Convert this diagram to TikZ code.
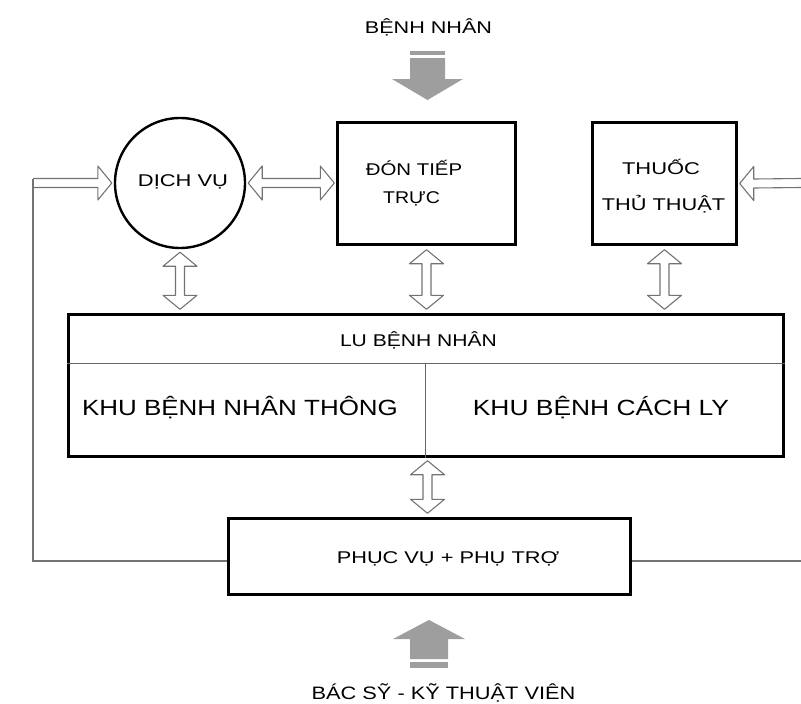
\documentclass[tikz,border=0pt]{standalone}
\usepackage{fontspec}
\setmainfont{Liberation Sans}
\usepackage{graphicx}
\usetikzlibrary{calc}
\newcommand\sx[2]{\scalebox{#1}[1]{#2}}
\tikzset{
  boxst/.style={draw=black, line width=2.4pt, inner sep=0pt, fill=white},
  txt/.style={anchor=base, inner sep=0pt, font=\fontsize{17}{20}\selectfont},
  bigtxt/.style={anchor=base, inner sep=0pt, font=\fontsize{22}{26}\selectfont},
  blk/.style={draw=black!55, line width=1.1pt, line join=round},
  link/.style={draw=black!55, line width=2.5pt},
  divider/.style={draw=black!60, line width=0.9pt},
  gblock/.style={fill=black!38, draw=none},
}
\newcommand\vdbl[2]{\draw[blk] (#1) -- ++(-17,14) -- ++(12.5,0) -- ($(#2)+(-4.5,-14)$) -- ++(-12.5,0) -- (#2) -- ++(17,-14) -- ++(-12.5,0) -- ($(#1)+(4.5,14)$) -- ++(12.5,0) -- cycle;}
\newcommand\hdbl[2]{\draw[blk] (#1) -- ++(14,-17) -- ++(0,12.5) -- ($(#2)+(-14,-4.5)$) -- ++(0,-12.5) -- (#2) -- ++(-14,17) -- ++(0,-12.5) -- ($(#1)+(14,4.5)$) -- ++(0,12.5) -- cycle;}
\begin{document}
\begin{tikzpicture}[x=1pt,y=-1pt]
\useasboundingbox (0,0) rectangle (801,704);

% nodes
\node[boxst, circle, minimum size=130] (dv) at (180,183) {};
\node[boxst, rectangle, minimum width=178, minimum height=122] (dt) at (426.5,183.5) {};
\node[boxst, rectangle, minimum width=144, minimum height=122] (th) at (664.5,183.5) {};
\node[boxst, rectangle, minimum width=715, minimum height=142] (lu) at (426,385.5) {};
\node[boxst, rectangle, minimum width=402, minimum height=76] (pv) at (429.5,556.5) {};

% dividers of the big box
\coordinate (d1) at (68,363);
\coordinate (d2) at (425,363);
\draw[divider] (lu.west |- d1) -- (lu.east |- d1);
\draw[divider] (d2) -- (lu.south -| d2);

% texts
\node[txt] (t1) at (428.5,33) {\sx{1.27}{BỆNH NHÂN}};
\node[txt] (t2) at (183,186) {\sx{1.29}{DỊCH VỤ}};
\node[txt] (t3a) at (414,175) {\sx{1.2}{ĐÓN TIẾP}};
\node[txt] (t3b) at (411.5,203) {\sx{1.15}{TRỰC}};
\node[txt] (t4a) at (661,174) {\sx{1.29}{THUỐC}};
\node[txt] (t4b) at (663.5,210) {\sx{1.28}{THỦ THUẬT}};
\node[txt] (t5) at (418.5,346) {\sx{1.24}{LU BỆNH NHÂN}};
\node[bigtxt] (t6) at (240,415) {\sx{1.18}{KHU BỆNH NHÂN THÔNG}};
\node[bigtxt] (t7) at (601,415) {\sx{1.2}{KHU BỆNH CÁCH LY}};
\node[txt] (t8) at (448,563) {\sx{1.28}{PHỤC VỤ + PHỤ TRỢ}};
\node[txt, font=\fontsize{18}{21}\selectfont] (t9) at (443.5,699) {\sx{1.21}{BÁC SỸ - KỸ THUẬT VIÊN}};

% gray block arrows
\fill[gblock] (410,51) rectangle (445,55);
\fill[gblock] (410,58) -- (445,58) -- (445,79) -- (463,79) -- (427.5,100) -- (392,79) -- (410,79) -- cycle;
\fill[gblock] (429,620) -- (465,639) -- (448,639) -- (448,659) -- (410,659) -- (410,639) -- (393,639) -- cycle;
\fill[gblock] (410,662) rectangle (448,668);

% outer links
\coordinate (lc) at (33,183);
\coordinate (lb) at (33,561);
\coordinate (re) at (801,183);
\coordinate (rb) at (801,561);
\draw[link] (pv.west |- lb) -- (lb) -- ($(lc)+(0,-4.5)$);
\draw[link] (pv.east |- rb) -- (rb);

% single headed arrows
\draw[blk] ($(lc)+(0,-4.5)$) -- ($(dv.west)+(-16,-4.5)$) -- ++(0,-12.5) -- ($(dv.west)+(-2,0)$) -- ($(dv.west)+(-16,17)$) -- ++(0,-12.5) -- ($(lc)+(0,4.5)$);
\draw[blk] ($(re)+(0,-4.5)$) -- ($(th.east)+(16,-4.5)$) -- ++(0,-12.5) -- ($(th.east)+(2,0)$) -- ($(th.east)+(16,17)$) -- ++(0,-12.5) -- ($(re)+(0,4.5)$);

% double headed arrows
\coordinate (h1) at ($(dv.east)+(2,0)$);
\coordinate (h2) at ($(dt.west |- dv.east)+(-2,0)$);
\hdbl{h1}{h2}
\coordinate (v1a) at ($(dv.south)+(0,3)$);
\coordinate (v1b) at ($(lu.north -| dv.south)+(0,-4)$);
\vdbl{v1a}{v1b}
\coordinate (v2a) at ($(dt.south)+(0,4)$);
\coordinate (v2b) at ($(lu.north -| dt.south)+(0,-4)$);
\vdbl{v2a}{v2b}
\coordinate (v3a) at ($(th.south)+(0,4)$);
\coordinate (v3b) at ($(lu.north -| th.south)+(0,-4)$);
\vdbl{v3a}{v3b}
\coordinate (v4a) at ($(lu.south)+(1.5,3)$);
\coordinate (v4b) at ($(pv.north -| v4a)+(0,-4)$);
\vdbl{v4a}{v4b}
\end{tikzpicture}
\end{document}
